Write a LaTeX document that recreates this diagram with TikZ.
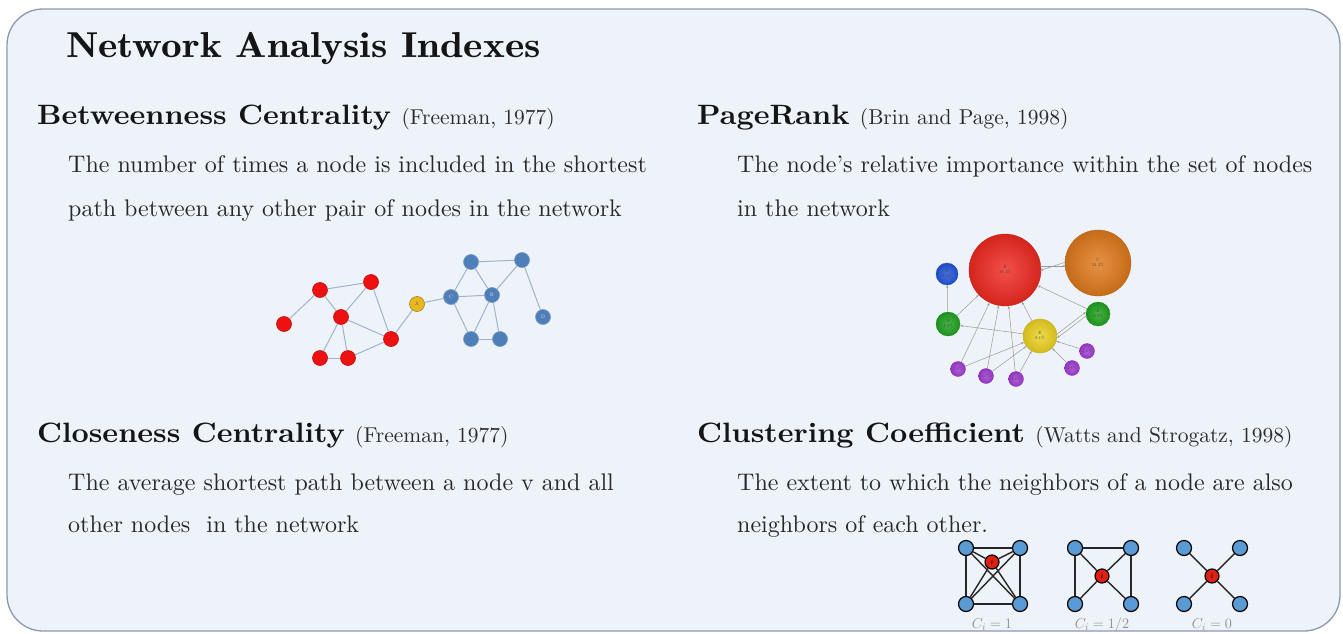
\documentclass[tikz,border=0pt]{standalone}
\usepackage{fontspec}
\setmainfont{lmroman10-regular.otf}[BoldFont=lmroman10-bold.otf,ItalicFont=lmroman10-italic.otf,BoldItalicFont=lmroman10-bolditalic.otf]
\newfontfamily\titlefont{lmromandemi10-regular.otf}[FakeStretch=1.15]
\newfontfamily\headfont{lmroman10-bold.otf}[FakeStretch=1.07]
\usetikzlibrary{arrows.meta,calc}
\definecolor{panel}{HTML}{EEF3F9}
\definecolor{panelrule}{HTML}{8A9AB0}
\definecolor{ink}{HTML}{151515}
\definecolor{bedge}{HTML}{9FB4CC}
\definecolor{bred}{HTML}{EE1111}
\definecolor{bblue}{HTML}{4F7FB8}
\definecolor{byellow}{HTML}{E8B820}
\definecolor{pgray}{HTML}{9A9A9A}
\definecolor{pred}{HTML}{F02A22}
\definecolor{porange}{HTML}{E07A1C}
\definecolor{pblue}{HTML}{2255DD}
\definecolor{pgreen}{HTML}{1FA41F}
\definecolor{pyellow}{HTML}{EED422}
\definecolor{ppurple}{HTML}{A43CD8}
\definecolor{cblue}{HTML}{5B9BD5}
\definecolor{cred}{HTML}{E02010}
\tikzset{
  titletext/.style={anchor=base west,inner sep=0,text=ink,font=\titlefont\fontsize{36}{38}\selectfont},
  headtext/.style={anchor=base west,inner sep=0,text=ink,font=\headfont\fontsize{28}{30}\selectfont},
  citetext/.style={anchor=base west,inner sep=0,text=ink!90,font=\fontsize{21.5}{23}\selectfont},
  bodytext/.style={anchor=base west,inner sep=0,text=ink!92,font=\fontsize{24}{26}\selectfont},
  bnode/.style={circle,inner sep=0,minimum size=15pt,line width=0.6pt},
  rednode/.style={bnode,fill=bred,draw=bred!80!black},
  bluenode/.style={bnode,fill=bblue,draw=bblue!80!white,text=white!85!bblue,font=\fontsize{5}{5}\selectfont},
  yelnode/.style={bnode,fill=byellow,draw=byellow!70!black,text=black!70,font=\fontsize{5}{5}\selectfont},
  bedgestyle/.style={draw=bedge,line width=1pt},
  pnode/.style={circle,inner sep=0,align=center,text=black!75,font=\fontsize{4.5}{5}\selectfont},
  pshade/.style={shading=radial,inner color=#1!82!white,outer color=#1!88!black,draw=#1!80!black,line width=0.3pt},
  parrow/.style={draw=pgray,line width=0.5pt,-{Stealth[length=3pt,width=2.2pt]}},
  cnode/.style={circle,inner sep=0,minimum size=15pt,draw=black,line width=1.2pt,fill=cblue},
  cinode/.style={circle,inner sep=0,minimum size=14pt,draw=black,line width=1.2pt,fill=cred,font=\fontsize{8}{8}\selectfont\itshape},
  cedge/.style={draw=black!85,line width=1.4pt},
  citext/.style={anchor=base,inner sep=0,text=black!45,font=\fontsize{14}{14}\selectfont}
}
\begin{document}
\begin{tikzpicture}[x=1pt,y=-1pt]
\useasboundingbox (0,0) rectangle (1343,634);
\fill[white] (0,0) rectangle (1343,634);
\draw[fill=panel,draw=panelrule,line width=1.3pt,rounded corners=36pt] (7,9) rectangle (1340,631);

% Texts
\node[titletext] (title) at (66,57) {Network Analysis Indexes};

\node[headtext] (h1) at (37,124) {Betweenness Centrality};
\node[citetext] (c1) at ([xshift=10pt]h1.base east) {(Freeman, 1977)};
\node[bodytext] (b1a) at (68,172) {The number of times a node is included in the shortest};
\node[bodytext] (b1b) at (68,216) {path between any other pair of nodes in the network};

\node[headtext] (h2) at (697,124) {PageRank};
\node[citetext] (c2) at ([xshift=10pt]h2.base east) {(Brin and Page, 1998)};
\node[bodytext] (b2a) at (737,172) {The node’s relative importance within the set of nodes};
\node[bodytext] (b2b) at (737,216) {in the network};

\node[headtext] (h3) at (37,442) {Closeness Centrality};
\node[citetext] (c3) at ([xshift=10pt]h3.base east) {(Freeman, 1977)};
\node[bodytext] (b3a) at (68,490) {The average shortest path between a node v and all};
\node[bodytext] (b3b) at (68,532) {other nodes\ \ in the network};

\node[headtext] (h4) at (697,442) {Clustering Coefficient};
\node[citetext] (c4) at ([xshift=10pt]h4.base east) {(Watts and Strogatz, 1998)};
\node[bodytext] (b4a) at (737,490) {The extent to which the neighbors of a node are also};
\node[bodytext] (b4b) at (737,532) {neighbors of each other.};

% Betweenness graph
\node[rednode] (r1) at (284,324) {};
\node[rednode] (r2) at (320,290) {};
\node[rednode] (r3) at (371,282) {};
\node[rednode] (r4) at (341,317) {};
\node[rednode] (r5) at (391,339) {};
\node[rednode] (r6) at (320,358) {};
\node[rednode] (r7) at (348,358) {};
\node[yelnode] (ba) at (417,304) {A};
\node[bluenode] (bc) at (451,297) {C};
\node[bluenode] (bb) at (492,295) {B};
\node[bluenode] (bt1) at (471,262) {};
\node[bluenode] (bt2) at (522,260) {};
\node[bluenode] (bd) at (543,317) {D};
\node[bluenode] (bb1) at (471,339) {};
\node[bluenode] (bb2) at (500,339) {};
\foreach \a/\b in {r1/r2,r2/r3,r2/r4,r3/r4,r3/r5,r4/r5,r4/r6,r4/r7,r6/r7,r7/r5,r5/ba,ba/bc,bc/bt1,bc/bb,bc/bb1,bt1/bb,bt1/bt2,bt2/bb,bt2/bd,bb/bb1,bb/bb2,bb1/bb2}
  \draw[bedgestyle] (\a) -- (\b);

% PageRank graph
\node[pnode,minimum size=72pt,pshade=pred] (pB) at (1005,270) {B\\38.4\%};
\node[pnode,minimum size=66pt,pshade=porange] (pC) at (1098,263) {C\\34.3\%};
\node[pnode,minimum size=22pt,pshade=pblue] (pA) at (947,274) {A\\3.3\%};
\node[pnode,minimum size=24pt,pshade=pgreen] (pD) at (948,324) {D\\3.9\%};
\node[pnode,minimum size=24pt,pshade=pgreen] (pF) at (1098,314) {F\\3.9\%};
\node[pnode,minimum size=34pt,pshade=pyellow] (pE) at (1040,336) {E\\8.1\%};
\node[pnode,minimum size=15pt,pshade=ppurple] (p1) at (958,369) {1.6\%};
\node[pnode,minimum size=15pt,pshade=ppurple] (p2) at (986,376) {1.6\%};
\node[pnode,minimum size=15pt,pshade=ppurple] (p3) at (1016,379) {1.6\%};
\node[pnode,minimum size=15pt,pshade=ppurple] (p4) at (1072,368) {1.6\%};
\node[pnode,minimum size=15pt,pshade=ppurple] (p5) at (1087,351) {1.6\%};
\draw[parrow] ([yshift=4pt,xshift=-1pt]pB.east) -- ([yshift=-3pt,xshift=1pt]pC.west);
\draw[parrow] ([yshift=1pt,xshift=1pt]pC.west) -- ([yshift=-0.5pt,xshift=-1pt]pB.east);
\draw[parrow] (pD) -- (pA);
\draw[parrow] (pD) -- (pB);
\draw[parrow] (pE) -- (pD);
\draw[parrow] (pE) -- (pB);
\draw[parrow] (pF) -- (pB);
\draw[parrow] ([yshift=2pt]pE.east) -- ([yshift=2pt]pF.west);
\draw[parrow] ([yshift=-2pt]pF.west) -- ([yshift=-2pt]pE.east);
\foreach \p in {p1,p2,p3} {
  \draw[parrow] (\p) -- (pB);
  \draw[parrow] (\p) -- (pE);
}
\draw[parrow] (p4) -- (pE);
\draw[parrow] (p5) -- (pE);

% Clustering coefficient graphs
\node[cnode] (g1a) at (966,548) {};
\node[cnode] (g1b) at (1020,548) {};
\node[cnode] (g1c) at (966,604) {};
\node[cnode] (g1d) at (1020,604) {};
\node[cinode] (g1i) at (992,562) {$i$};
\node[cnode] (g2a) at (1075,548) {};
\node[cnode] (g2b) at (1131,548) {};
\node[cnode] (g2c) at (1075,604) {};
\node[cnode] (g2d) at (1131,604) {};
\node[cinode] (g2i) at (1102,576) {$i$};
\node[cnode] (g3a) at (1184,548) {};
\node[cnode] (g3b) at (1240,548) {};
\node[cnode] (g3c) at (1184,604) {};
\node[cnode] (g3d) at (1240,604) {};
\node[cinode] (g3i) at (1212,576) {$i$};
\foreach \a/\b in {g1a/g1b,g1b/g1d,g1d/g1c,g1c/g1a,g1a/g1d,g1b/g1c,g2a/g2b,g2a/g2c,g2b/g2d}
  \draw[cedge] (\a) -- (\b);
\foreach \g in {g1,g2,g3}
  \foreach \c in {a,b,c,d}
    \draw[cedge] (\g i) -- (\g\c);
\node[citext] (l1) at (992,628) {$C_i = 1$};
\node[citext] (l2) at (1102,628) {$C_i = 1/2$};
\node[citext] (l3) at (1212,628) {$C_i = 0$};
\end{tikzpicture}
\end{document}
